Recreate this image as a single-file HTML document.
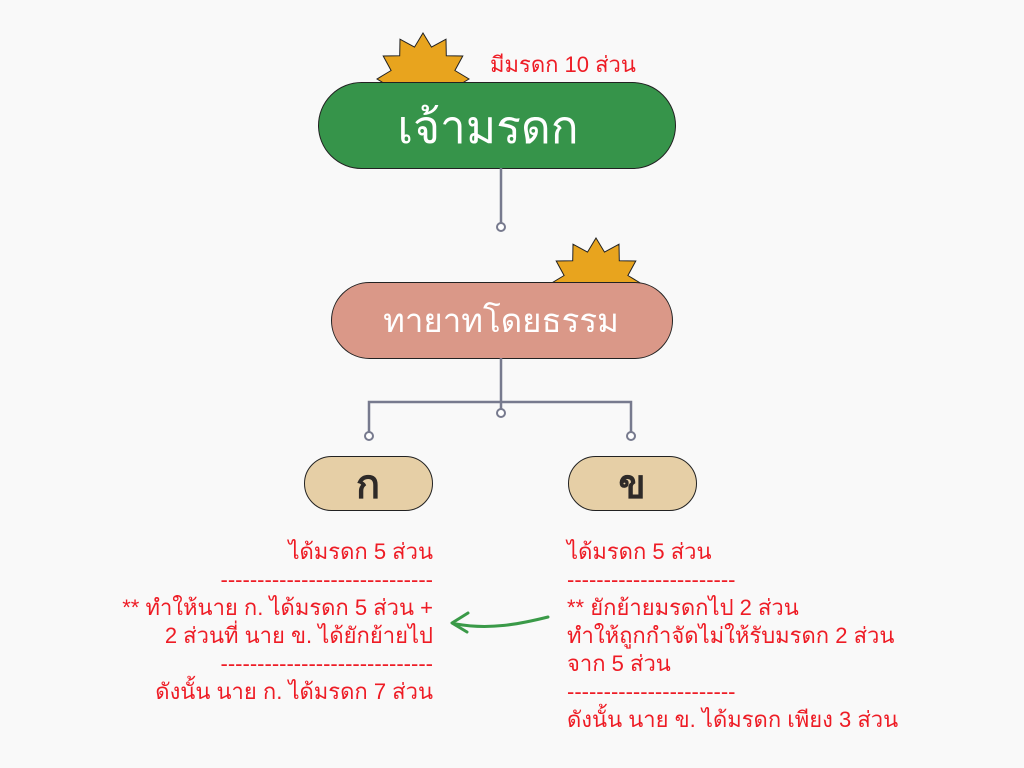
<!DOCTYPE html>
<html><head><meta charset="utf-8"><style>
body{margin:0;background:#f9f9f9;width:1024px;height:768px;overflow:hidden;position:relative;font-family:"Liberation Sans","Noto Sans CJK SC",sans-serif}
.t{position:absolute;color:#ee1c25;font-size:22px;line-height:28px;white-space:nowrap}
</style></head><body>
<svg width="1024" height="768" style="position:absolute;left:0;top:0">
<polygon id="s1" fill="#e8a41e" stroke="#222" stroke-width="1" points=""/>
<polygon id="s2" fill="#e8a41e" stroke="#222" stroke-width="1" points=""/>
<rect x="318.5" y="82.5" width="357" height="86" rx="43" fill="#36944a" stroke="#222"/>
<text x="488" y="143" fill="#fff" font-size="46" text-anchor="middle" font-family="Liberation Sans, Noto Sans CJK SC, sans-serif">เจ้ามรดก</text>
<line x1="501" y1="168" x2="501" y2="223" stroke="#777a8e" stroke-width="2.5"/>
<circle cx="501" cy="227" r="4" fill="#fff" stroke="#777a8e" stroke-width="2"/>
<rect x="331.5" y="282.5" width="341" height="76" rx="38" fill="#da9888" stroke="#222"/>
<text x="501" y="332" fill="#fff" font-size="33" text-anchor="middle" font-family="Liberation Sans, Noto Sans CJK SC, sans-serif">ทายาทโดยธรรม</text>
<path d="M501 358V402M369 432V402H631V432M501 402V409" stroke="#777a8e" stroke-width="2.5" fill="none"/>
<circle cx="501" cy="413" r="4" fill="#fff" stroke="#777a8e" stroke-width="2"/>
<circle cx="369" cy="436" r="4" fill="#fff" stroke="#777a8e" stroke-width="2"/>
<circle cx="631" cy="436" r="4" fill="#fff" stroke="#777a8e" stroke-width="2"/>
<rect x="304.5" y="456.5" width="128" height="54" rx="27" fill="#e6cfa6" stroke="#222"/>
<text x="368" y="498" fill="#2e2a28" font-size="40" font-weight="bold" text-anchor="middle" font-family="Liberation Sans, Noto Sans CJK SC, sans-serif">ก</text>
<rect x="568.5" y="456.5" width="128" height="54" rx="27" fill="#e6cfa6" stroke="#222"/>
<text x="632" y="498" fill="#2e2a28" font-size="40" font-weight="bold" text-anchor="middle" font-family="Liberation Sans, Noto Sans CJK SC, sans-serif">ข</text>
<path d="M548 617C520 624 490 630 456 624" stroke="#3a9a48" stroke-width="3" fill="none" stroke-linecap="round"/>
<path d="M468 613L452 623L467 632" stroke="#3a9a48" stroke-width="3" fill="none" stroke-linecap="round" stroke-linejoin="round"/>
</svg>
<script>
function star(id,cx,cy,R,r,n){var p=[];for(var i=0;i<2*n;i++){var a=-Math.PI/2+i*Math.PI/n,rr=i%2?r:R;p.push((cx+rr*Math.cos(a)).toFixed(1)+","+(cy+rr*Math.sin(a)).toFixed(1));}document.getElementById(id).setAttribute("points",p.join(" "));}
star("s1",423,79,46,33,12);star("s2",596,284,46,33,12);
</script>
<div class="t" style="left:490px;top:51px">มีมรดก 10 ส่วน</div>
<div class="t" style="right:591px;top:538px;text-align:right">ได้มรดก 5 ส่วน<br>-----------------------------<br>** ทำให้นาย ก. ได้มรดก 5 ส่วน +<br>2 ส่วนที่ นาย ข. ได้ยักย้ายไป<br>-----------------------------<br>ดังนั้น นาย ก. ได้มรดก 7 ส่วน</div>
<div class="t" style="left:567px;top:538px">ได้มรดก 5 ส่วน<br>-----------------------<br>** ยักย้ายมรดกไป 2 ส่วน<br>ทำให้ถูกกำจัดไม่ให้รับมรดก 2 ส่วน<br>จาก 5 ส่วน<br>-----------------------<br>ดังนั้น นาย ข. ได้มรดก เพียง 3 ส่วน</div>
</body></html>
